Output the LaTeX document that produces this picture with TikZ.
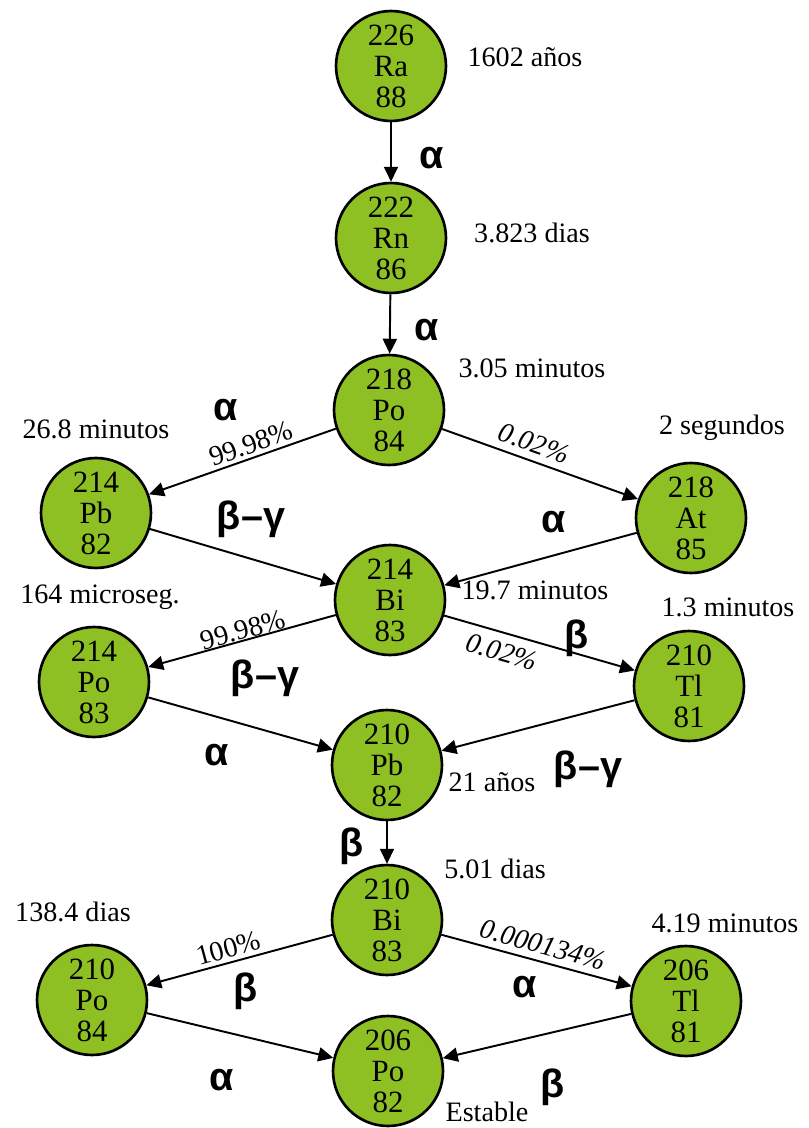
\documentclass[tikz,border=0pt]{standalone}
\usepackage{fontspec}
\setmainfont{Liberation Serif}
\newfontfamily\greekfont{Liberation Sans}
\usetikzlibrary{arrows.meta}
\definecolor{nucgreen}{RGB}{143, 192, 35}

\begin{document}
\begin{tikzpicture}[x=0.02cm, y=-0.02cm,
        nucleus/.style={circle, draw=black, line width=1.5pt, fill=nucgreen, minimum size=2.2cm,
                        inner sep=0pt, align=center, font=\fontsize{17.6}{17.6}\selectfont},
        halflife/.style={font=\fontsize{16}{16}\selectfont},
        decay/.style={font=\fontsize{22.5}{22.5}\selectfont\greekfont\bfseries},
        branch/.style={font=\fontsize{16}{16}\selectfont, sloped, above, inner sep=2pt},
        chain/.style={-{Triangle[length=8.5pt, width=8pt]}, line width=1.1pt}]
    % Frame to ensure alignment:
    \useasboundingbox (0,0) rectangle (808,1128);
    % Nuclei
    \node[nucleus] (ra226) at (391,  66) {226\\Ra\\88};
    \node[nucleus] (rn222) at (391, 238) {222\\Rn\\86};
    \node[nucleus] (po218) at (389, 410) {218\\Po\\84};
    \node[nucleus] (pb214) at ( 96, 513) {214\\Pb\\82};
    \node[nucleus] (at218) at (691, 518) {218\\At\\85};
    \node[nucleus] (bi214) at (390, 600) {214\\Bi\\83};
    \node[nucleus] (po214) at ( 94, 682) {214\\Po\\83};
    \node[nucleus] (tl210) at (689, 686) {210\\Tl\\81};
    \node[nucleus] (pb210) at (387, 765) {210\\Pb\\82};
    \node[nucleus] (bi210) at (387, 920) {210\\Bi\\83};
    \node[nucleus] (po210) at ( 92,1000) {210\\Po\\84};
    \node[nucleus] (tl206) at (686,1001) {206\\Tl\\81};
    \node[nucleus] (po206) at (388,1071) {206\\Po\\82};
    % Half-lives
    \node[halflife] (tRa)   at (525,  57) {1602 años};
    \node[halflife] (tRn)   at (532, 233) {3.823 dias};
    \node[halflife] (tPo1)  at (532, 368) {3.05 minutos};
    \node[halflife] (tPb1)  at ( 96, 429) {26.8 minutos};
    \node[halflife] (tAt)   at (722, 428) {2 segundos};
    \node[halflife] (tBi1)  at (535, 590) {19.7 minutos};
    \node[halflife] (tPo2)  at (100, 597) {164 microseg.};
    \node[halflife] (tTl1)  at (728, 607) {1.3 minutos};
    \node[halflife] (tPb2)  at (492, 782) {21 años};
    \node[halflife] (tBi2)  at (495, 869) {5.01 dias};
    \node[halflife] (tPo3)  at ( 73, 912) {138.4 dias};
    \node[halflife] (tTl2)  at (725, 923) {4.19 minutos};
    \node[halflife] (tPo4)  at (487,1112) {Estable};
    % Decays
    \draw[chain] (ra226) -- (rn222);
    \draw[chain] (rn222) -- (po218);
    \draw[chain] (po218) -- node[branch, pos=0.43] (pPoPb) {99.98\%} (pb214);
    \draw[chain] (po218) -- node[branch, pos=0.44, inner sep=4pt] (pPoAt) {\itshape 0.02\%} (at218);
    \draw[chain] (pb214) -- (bi214);
    \draw[chain] (at218) -- (bi214);
    \draw[chain] (bi214) -- node[branch, pos=0.48, inner sep=0pt] (pBiPo) {99.98\%} (po214);
    \draw[chain] (bi214) -- node[branch, below, pos=0.33, inner sep=5pt] (pBiTl) {\itshape 0.02\%} (tl210);
    \draw[chain] (po214) -- (pb210);
    \draw[chain] (tl210) -- (pb210);
    \draw[chain] (pb210) -- (bi210);
    \draw[chain] (bi210) -- node[branch, pos=0.54] (pBiPo2) {100\%} (po210);
    \draw[chain] (bi210) -- node[branch, pos=0.51, inner sep=3.5pt] (pBiTl2) {\itshape 0.000134\%} (tl206);
    \draw[chain] (po210) -- (po206);
    \draw[chain] (tl206) -- (po206);
    % Decay modes
    \node[decay] (dRaRn)  at (432, 158) {α};
    \node[decay] (dRnPo)  at (427, 330) {α};
    \node[decay] (dPoPb)  at (226, 410) {α};
    \node[decay] (dPbBi)  at (251, 519) {β–γ};
    \node[decay] (dAtBi)  at (554, 522) {α};
    \node[decay] (dBiPo)  at (265, 678) {β–γ};
    \node[decay] (dPoPb2) at (217, 755) {α};
    \node[decay] (dBiTl)  at (577, 638) {β};
    \node[decay] (dTlPb)  at (588, 769) {β–γ};
    \node[decay] (dPbBi2) at (352, 846) {β};
    \node[decay] (dBiPo3) at (246, 991) {β};
    \node[decay] (dPoPo)  at (222,1080) {α};
    \node[decay] (dBiTl2) at (525, 987) {α};
    \node[decay] (dTlPo)  at (553,1087) {β};
\end{tikzpicture}
\end{document}
